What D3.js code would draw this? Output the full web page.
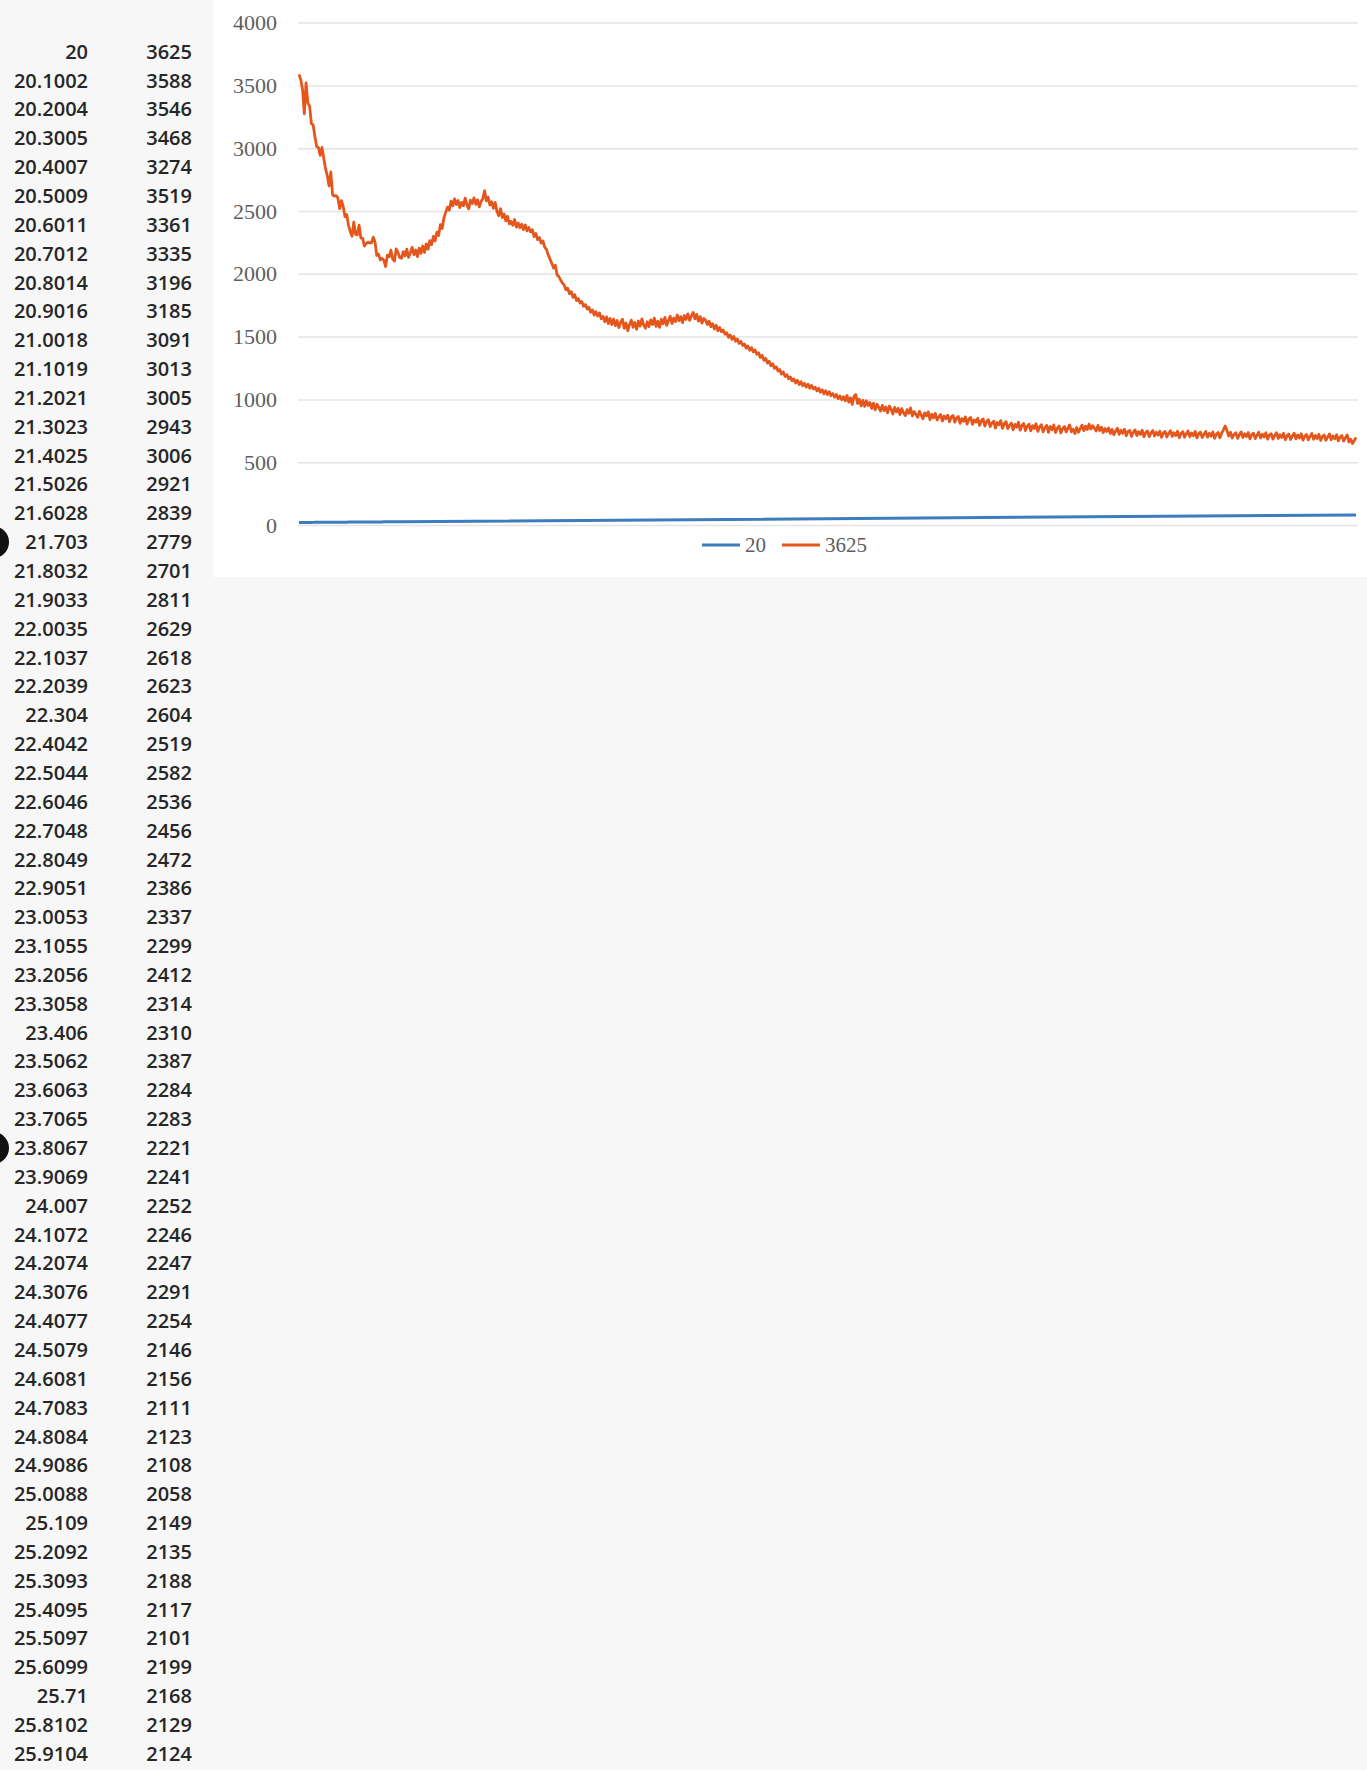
<!DOCTYPE html>
<html>
<head>
<meta charset="utf-8">
<script src="https://d3js.org/d3.v7.min.js"></script>
<style>
  html, body { margin: 0; padding: 0; background: #f7f7f7; }
  svg { display: block; }
</style>
</head>
<body>
<div id="chart"></div>
<script>
// sheet columns as they appear on the left (first row became the series names)
const angleCol = ["20","20.1002","20.2004","20.3005","20.4007","20.5009","20.6011","20.7012","20.8014","20.9016",
  "21.0018","21.1019","21.2021","21.3023","21.4025","21.5026","21.6028","21.703","21.8032","21.9033",
  "22.0035","22.1037","22.2039","22.304","22.4042","22.5044","22.6046","22.7048","22.8049","22.9051",
  "23.0053","23.1055","23.2056","23.3058","23.406","23.5062","23.6063","23.7065","23.8067","23.9069",
  "24.007","24.1072","24.2074","24.3076","24.4077","24.5079","24.6081","24.7083","24.8084","24.9086",
  "25.0088","25.109","25.2092","25.3093","25.4095","25.5097","25.6099","25.71","25.8102","25.9104"];

const countCol = [3625,3588,3546,3468,3274,3519,3361,3335,3196,3185,
  3091,3013,3005,2943,3006,2921,2839,2779,2701,2811,
  2629,2618,2623,2604,2519,2582,2536,2456,2472,2386,
  2337,2299,2412,2314,2310,2387,2284,2283,2221,2241,
  2252,2246,2247,2291,2254,2146,2156,2111,2123,2108,
  2058,2149,2135,2188,2117,2101,2199,2168,2129,2124];

// rest of the "3625" series (rows below the visible sheet)
const countsAfterTable = [
  2177,2142,2196,2131,2168,2210,2152,2189,2137,2205,2163,
  2221,2170,2238,2196,2264,2231,2298,2262,2331,2305,
  2392,2361,2447,2489,2531,2506,2578,2541,2596,2552,
  2583,2527,2569,2541,2602,2548,2517,2586,2559,2604,
  2552,2589,2533,2575,2598,2662,2581,2609,2547,2573,
  2521,2568,2497,2462,2519,2448,2476,2421,2458,2397,
  2418,2386,2432,2371,2404,2367,2395,2352,2389,2341,
  2368,2334,2351,2296,2322,2271,2289,2244,2262,2213,
  2194,2151,2117,2083,2046,2068,1992,1978,1951,1927,
  1912,1873,1886,1841,1859,1812,1834,1786,1803,1768,
  1779,1741,1756,1719,1733,1694,1712,1671,1698,1664,
  1689,1642,1661,1618,1657,1603,1644,1596,1639,1587,
  1628,1571,1615,1639,1566,1608,1548,1597,1631,1574,
  1612,1558,1624,1583,1641,1592,1567,1618,1579,1633,
  1596,1647,1581,1622,1574,1638,1602,1653,1589,1627,
  1661,1604,1648,1619,1672,1626,1659,1611,1668,1637,
  1681,1629,1664,1692,1641,1677,1623,1659,1608,1644,
  1631,1596,1622,1579,1603,1561,1590,1547,1572,1538,
  1552,1519,1531,1494,1512,1478,1501,1463,1481,1446,
  1462,1429,1441,1408,1425,1391,1412,1378,1394,1359,
  1372,1334,1351,1311,1327,1289,1304,1268,1283,1247,
  1261,1226,1238,1201,1219,1183,1197,1164,1179,1148,
  1163,1131,1152,1118,1141,1109,1127,1098,1121,1089,
  1112,1083,1097,1068,1089,1057,1076,1044,1069,1038,
  1061,1029,1047,1018,1039,1006,1028,997,1021,989,
  1031,978,1012,961,1024,1039,967,1001,949,992,
  944,989,951,976,928,969,917,961,938,907,
  952,911,939,893,947,922,884,936,901,929,
  879,926,894,871,918,889,932,868,903,881,
  857,905,874,846,893,869,901,839,882,853,
  888,836,861,879,827,868,846,874,821,859,
  872,818,851,864,809,847,826,861,803,844,
  857,801,836,819,849,793,828,845,788,822,
  839,784,811,827,772,816,798,831,769,806,
  823,767,794,812,758,801,779,819,755,793,
  808,752,786,803,749,791,768,806,745,781,
  799,742,776,793,738,784,759,797,736,771,
  788,733,767,784,741,770,796,742,763,728,
  776,739,768,795,751,787,760,803,764,790,
  771,748,793,752,779,736,768,745,772,729,
  761,719,748,770,722,754,731,763,711,745,
  752,706,738,757,712,743,721,755,703,734,
  749,704,731,753,709,738,716,746,698,733,
  744,701,729,751,706,735,712,747,695,728,
  742,699,726,748,703,733,711,745,694,727,
  739,697,722,744,700,730,707,741,690,723,
  736,694,731,758,789,752,709,738,693,721,
  734,690,718,741,697,726,704,737,686,719,
  731,688,715,738,693,722,700,734,683,716,
  727,684,712,735,689,719,696,730,679,711,
  724,681,708,731,686,716,692,727,676,707,
  720,678,705,728,683,712,689,723,673,704,
  717,675,701,724,679,709,686,719,670,699,
  712,669,694,717,661,683,649,672,698
];
const lastAngle = 80;   // last value of the "20" series, at the right end

const yTicks = [0, 500, 1000, 1500, 2000, 2500, 3000, 3500, 4000];
const seriesNames = ["20", "3625"];
const seriesColors = ["#3d7cbf", "#e4561b"];

const W = 1367, H = 1770;

const svg = d3.select("#chart")
  .append("svg")
    .attr("width", W)
    .attr("height", H);

// ---- spreadsheet cells on the left ----
const rowY = d3.scaleLinear()
  .domain([0, angleCol.length - 1])
  .range([51.7, 51.7 + (angleCol.length - 1) * 28.85]);

const cells = svg.append("g")
  .attr("font-family", "'Open Sans', 'Liberation Sans', sans-serif")
  .attr("font-size", "20px")
  .attr("font-weight", 600)
  .attr("fill", "#262626");

cells.selectAll("text.angle")
  .data(angleCol)
  .join("text")
    .attr("class", "angle")
    .attr("x", 88)
    .attr("y", (d, i) => rowY(i))
    .attr("dy", "0.35em")
    .attr("text-anchor", "end")
    .text(d => d);

cells.selectAll("text.count")
  .data(countCol)
  .join("text")
    .attr("class", "count")
    .attr("x", 192)
    .attr("y", (d, i) => rowY(i))
    .attr("dy", "0.35em")
    .attr("text-anchor", "end")
    .text(d => d);

// dark marks at the left edge of the photo
svg.selectAll("circle.hole")
  .data([17, 38])
  .join("circle")
    .attr("class", "hole")
    .attr("cx", -7)
    .attr("cy", d => rowY(d))
    .attr("r", 16)
    .attr("fill", "#111");

// ---- chart object ----
svg.append("rect")
  .attr("x", 213)
  .attr("y", 0)
  .attr("width", W - 213)
  .attr("height", 577)
  .attr("fill", "#fff");

const seriesOrange = countCol.slice(1).concat(countsAfterTable);
const n = seriesOrange.length;

const x = d3.scaleLinear()
  .domain([0, n - 1])
  .range([299, 1356]);

const y = d3.scaleLinear()
  .domain([0, 4000])
  .range([525, 22.6]);

// gridlines
svg.append("g")
  .attr("transform", "translate(298,0)")
  .call(d3.axisRight(y).tickValues(yTicks).tickSize(1060).tickFormat(""))
  .call(g => g.select(".domain").remove())
  .call(g => g.selectAll("line").attr("stroke", "#e4e4e4").attr("stroke-width", 1.5));

// y axis labels
svg.append("g")
  .attr("transform", "translate(298,0)")
  .call(d3.axisLeft(y).tickValues(yTicks).tickSize(0).tickPadding(21).tickFormat(d3.format("d")))
  .call(g => g.select(".domain").remove())
  .call(g => g.selectAll("text")
    .attr("font-family", "'Liberation Serif', 'Times New Roman', serif")
    .attr("font-size", "22px")
    .attr("fill", "#5e5e5e"));

// the "20" series: visible sheet rows plus its end value
const seriesBlue = angleCol.slice(1).map((v, i) => [i, +v]);
seriesBlue.push([n - 1, lastAngle]);

const line = d3.line()
  .x(d => x(d[0]))
  .y(d => y(d[1]));

svg.append("path")
  .datum(seriesBlue)
  .attr("fill", "none")
  .attr("stroke", seriesColors[0])
  .attr("stroke-width", 3)
  .attr("d", line);

svg.append("path")
  .datum(seriesOrange.map((v, i) => [i, v]))
  .attr("fill", "none")
  .attr("stroke", seriesColors[1])
  .attr("stroke-width", 2.8)
  .attr("stroke-linejoin", "round")
  .attr("d", line);

// legend
const legend = svg.append("g")
  .attr("transform", "translate(702,545)");

const item = legend.selectAll("g")
  .data(seriesNames)
  .join("g")
    .attr("transform", (d, i) => `translate(${i * 80},0)`);

item.append("line")
  .attr("x1", 0).attr("x2", 38)
  .attr("stroke", (d, i) => seriesColors[i])
  .attr("stroke-width", 3);

item.append("text")
  .attr("x", 43)
  .attr("dy", "0.35em")
  .attr("font-family", "'Liberation Serif', 'Times New Roman', serif")
  .attr("font-size", "21px")
  .attr("fill", "#5e5e5e")
  .text(d => d);
</script>
</body>
</html>
